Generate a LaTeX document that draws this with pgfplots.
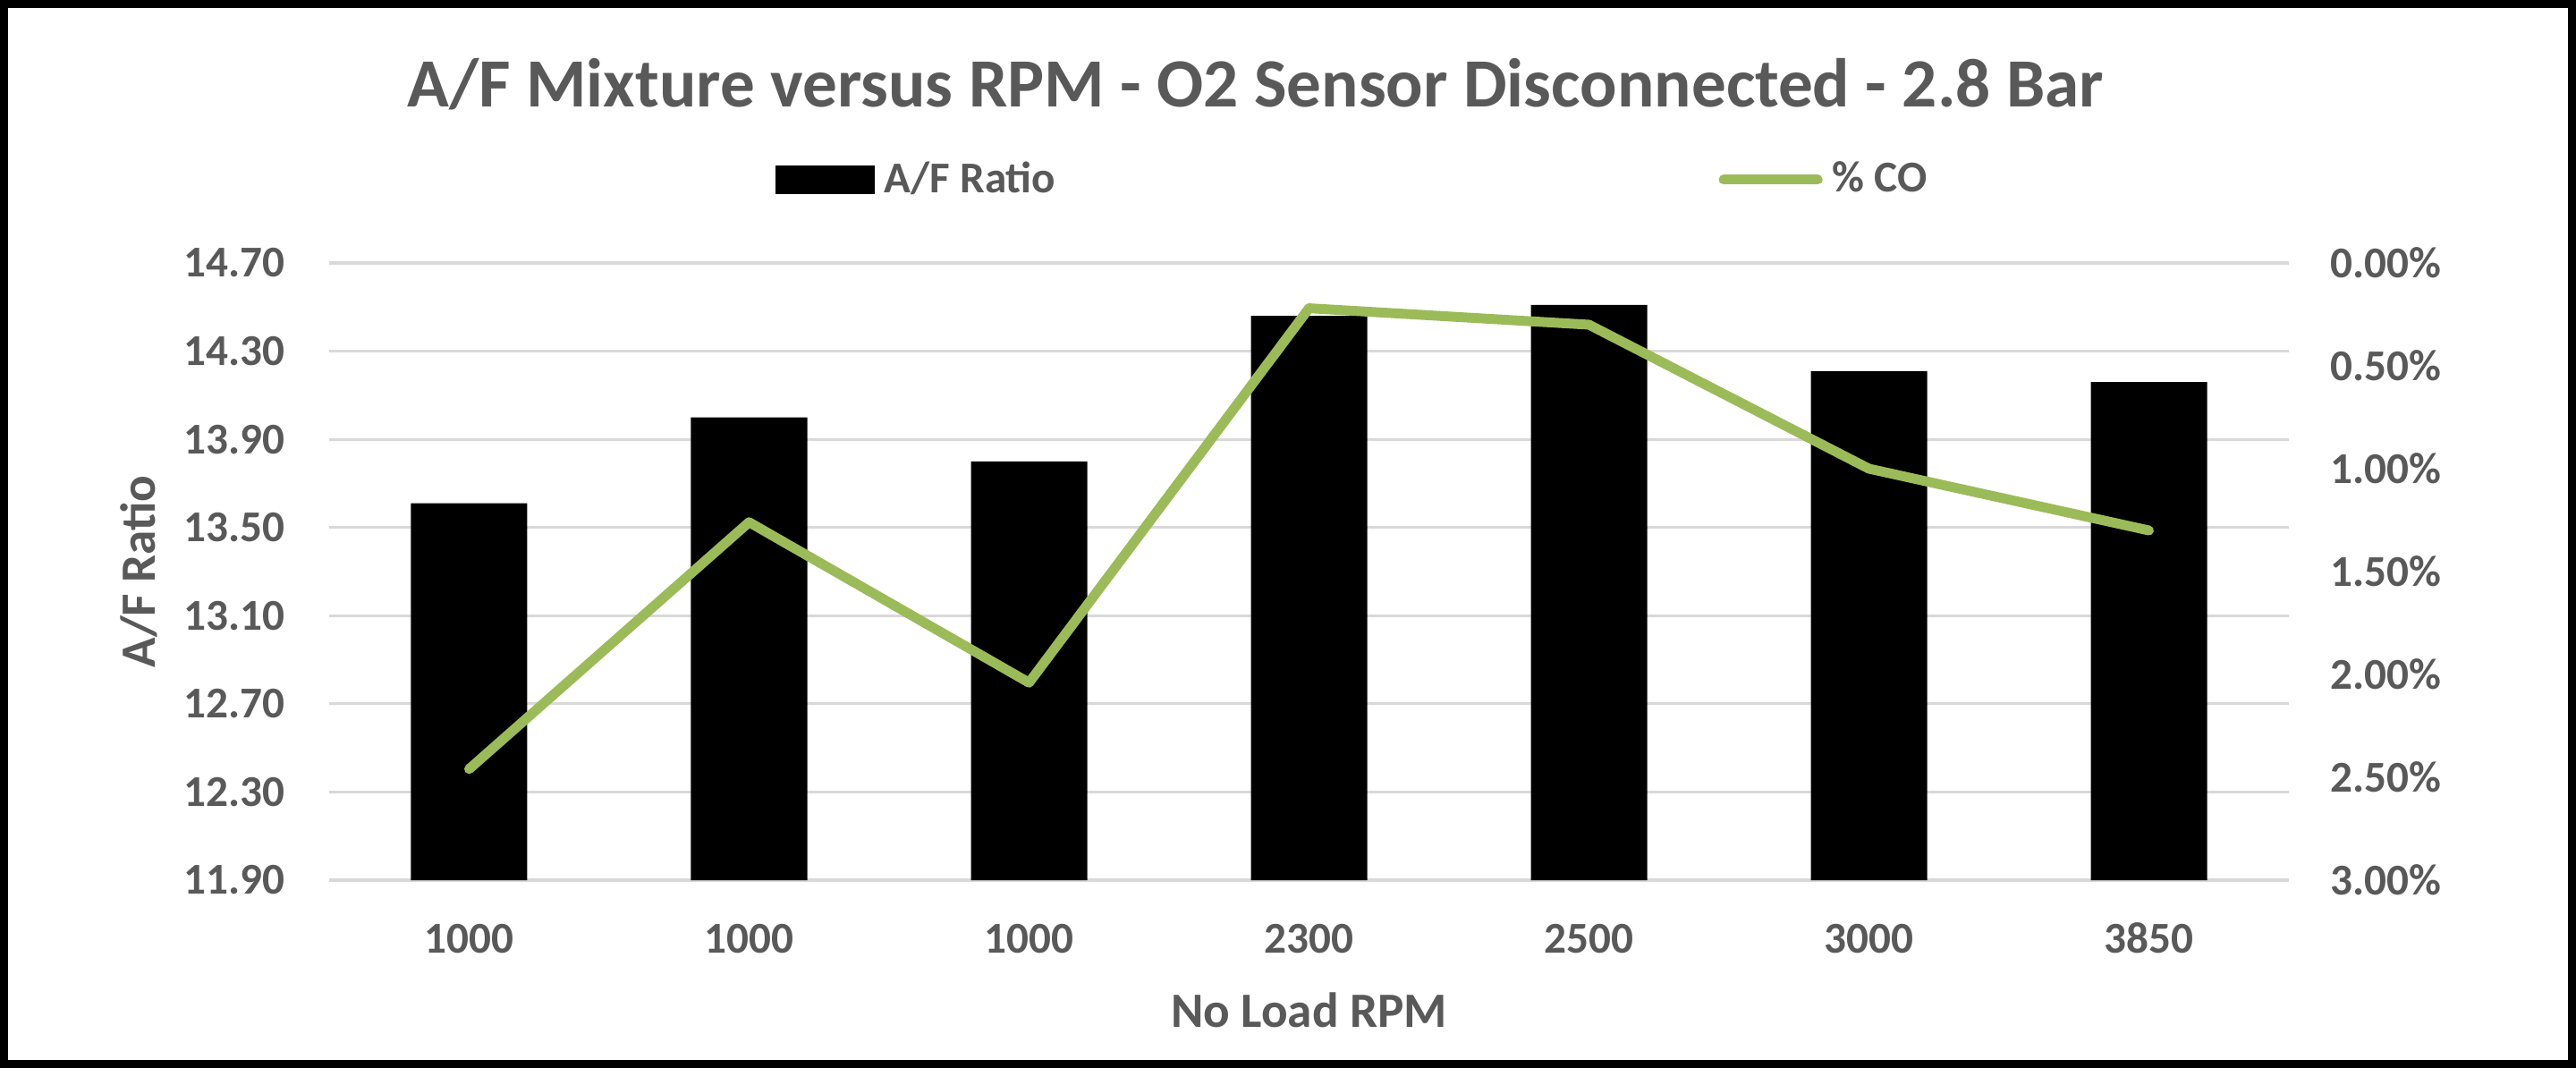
\documentclass[border=0pt]{standalone}
\usepackage{fontspec}
\setmainfont{Carlito}
\usepackage{pgfplots}
\pgfplotsset{compat=1.18}
\definecolor{txt}{HTML}{595959}
\definecolor{grd}{HTML}{D9D9D9}
\definecolor{coline}{HTML}{9BBB59}
\newcommand{\tickfont}{\fontsize{12.3bp}{14bp}\selectfont\bfseries}
\newcommand{\labfont}{\fontsize{13.8bp}{16bp}\selectfont\bfseries}
\begin{document}
\begin{tikzpicture}
\useasboundingbox (-92bp,-52.5bp) rectangle (628bp,246bp);
\fill[white] (-92bp,-52.5bp) rectangle (628bp,246bp);
\begin{axis}[
  scale only axis, width=547.75bp, height=172.5bp,
  at={(0,0)}, anchor=south west,
  xmin=-0.5, xmax=6.5, ymin=11.9, ymax=14.7,
  xtick={0,1,2,3,4,5,6},
  xticklabels={1000,1000,1000,2300,2500,3000,3850},
  ytick={11.9,12.3,12.7,13.1,13.5,13.9,14.3,14.7},
  ymajorgrids, major grid style={grd, line width=0.8bp},
  axis line style={draw=none}, major tick length=0pt,
  tick label style={font=\tickfont, text=txt, inner sep=0pt},
  xticklabel style={anchor=base, yshift=-20.25bp},
  yticklabel style={anchor=east, xshift=-12.25bp, /pgf/number format/.cd, fixed, fixed zerofill, precision=2, assume math mode=true},
  xlabel={No Load RPM},
  xlabel style={at={(rel axis cs:0.5,0)}, anchor=base, yshift=-41.2bp, font=\labfont, text=txt, inner sep=0pt},
  ylabel={A/F Ratio},
  every axis y label/.style={at={(rel axis cs:0,0.5)}, xshift=-48.5bp, rotate=90, anchor=base, font=\labfont, text=txt, inner sep=0pt},
  title={A/F Mixture versus RPM - O2 Sensor Disconnected - 2.8 Bar},
  every axis title/.style={at={(rel axis cs:0.4728,1.2522)}, anchor=base, font=\fontsize{19.3bp}{22bp}\selectfont\bfseries, text=txt, inner sep=0pt},
  legend cell align=left,
  legend style={draw=none, fill=none, inner sep=0pt, at={(rel axis cs:0.2275,1.1348)}, anchor=west,
    legend columns=2, font=\tickfont, text=txt, nodes={inner sep=0pt},
    /tikz/every odd column/.append style={column sep=2.75bp},
    /tikz/every even column/.append style={column sep=185.4bp}},
]
\addplot[ybar, bar width=32.5bp, bar shift=0pt, fill=black, draw=none,
  legend image code/.code={\fill[black] (0bp,-3.95bp) rectangle (27.6bp,3.95bp);}]
  coordinates {(0,13.61) (1,14.00) (2,13.80) (3,14.46) (4,14.51) (5,14.21) (6,14.16)};
\addlegendentry{A/F Ratio}
\addlegendimage{legend image code/.code={\draw[coline, line width=2.75bp, line cap=round] (0bp,0bp) -- (26.25bp,0bp);}}
\addlegendentry{\% CO}
\end{axis}
\begin{axis}[
  scale only axis, width=547.75bp, height=172.5bp,
  at={(0,0)}, anchor=south west,
  xmin=-0.5, xmax=6.5, ymin=0, ymax=3, y dir=reverse,
  xtick=\empty,
  ytick={0,0.5,1,1.5,2,2.5,3},
  yticklabel pos=right,
  axis line style={draw=none}, major tick length=0pt,
  yticklabel style={anchor=west, xshift=11.5bp, font=\tickfont, text=txt, inner sep=0pt},
  yticklabel={\pgfmathprintnumber[fixed,fixed zerofill,precision=2,assume math mode=true]{\tick}\%},
]
\addplot[coline, line width=2.75bp, line cap=round, line join=round, mark=none]
  coordinates {(0,2.46) (1,1.26) (2,2.04) (3,0.22) (4,0.30) (5,1.00) (6,1.30)};
\end{axis}
\draw[black, line width=2.25bp] (-90.875bp,-51.375bp) rectangle (626.875bp,244.875bp);
\end{tikzpicture}
\end{document}
